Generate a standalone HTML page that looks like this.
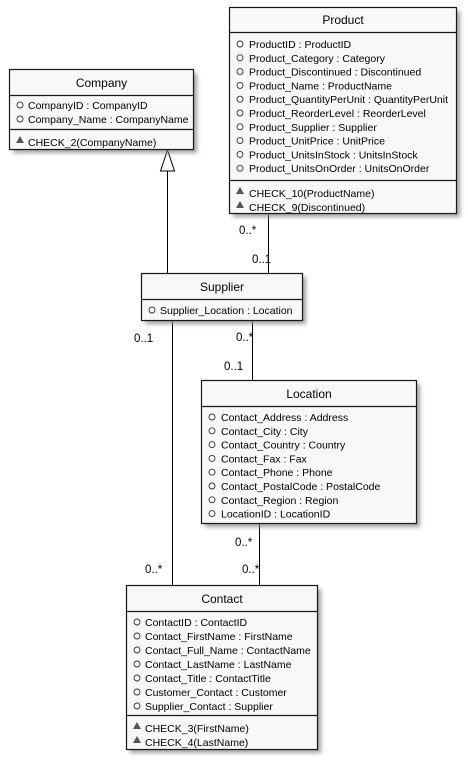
<!DOCTYPE html>
<html><head><meta charset="utf-8"><style>
html,body{margin:0;padding:0;background:#fff}
text{font-family:"Liberation Sans",Arial,sans-serif;fill:#000}
.t{font-size:12px}
.a{font-size:10.5px}
.m{font-size:11px}
</style></head><body>
<svg width="468" height="763" viewBox="0 0 468 763" xmlns="http://www.w3.org/2000/svg">
<defs><filter id="sh" x="-10%" y="-10%" width="130%" height="130%"><feGaussianBlur stdDeviation="2"/></filter></defs>
<g stroke="#000" stroke-width="1" fill="none">
<!-- connectors -->
<line x1="167.5" y1="171" x2="167.5" y2="273"/>
<polygon points="167.5,150 160.5,171 174.5,171" fill="#fff"/>
<line x1="268.5" y1="213" x2="268.5" y2="273"/>
<line x1="172.5" y1="320" x2="172.5" y2="585"/>
<line x1="252.5" y1="320" x2="252.5" y2="380"/>
<line x1="259.5" y1="523" x2="259.5" y2="585"/>
</g>
<g fill="#000" font-family="Liberation Sans,Arial,sans-serif" font-size="11.5">
<text x="239" y="234">0..*</text>
<text x="252" y="263">0..1</text>
<text x="134" y="342">0..1</text>
<text x="236" y="341">0..*</text>
<text x="224" y="370">0..1</text>
<text x="235" y="546">0..*</text>
<text x="145" y="573">0..*</text>
<text x="242" y="573">0..*</text>
</g>
<!-- shadows -->
<g fill="#888" filter="url(#sh)" opacity="0.8">
<rect x="13" y="73" width="184" height="80"/>
<rect x="233" y="11" width="227" height="206"/>
<rect x="145" y="277" width="161" height="47"/>
<rect x="205" y="384" width="215" height="143"/>
<rect x="130" y="589" width="191" height="164"/>
</g>
<g stroke="#181818" stroke-width="1.2" fill="#f8f8f8">
<rect x="9.5" y="69.5" width="184" height="80"/>
<line x1="9.5" y1="95.5" x2="193.5" y2="95.5"/><line x1="9.5" y1="129.5" x2="193.5" y2="129.5"/>
<rect x="229.5" y="7.5" width="227" height="206"/>
<line x1="229.5" y1="32.5" x2="456.5" y2="32.5"/><line x1="229.5" y1="180.5" x2="456.5" y2="180.5"/>
<rect x="141.5" y="273.5" width="161" height="47"/>
<line x1="141.5" y1="299.5" x2="302.5" y2="299.5"/>
<rect x="201.5" y="380.5" width="215" height="143"/>
<line x1="201.5" y1="406.5" x2="416.5" y2="406.5"/>
<rect x="126.5" y="585.5" width="191" height="164"/>
<line x1="126.5" y1="611.5" x2="317.5" y2="611.5"/><line x1="126.5" y1="715.5" x2="317.5" y2="715.5"/>
</g>
<!-- titles -->
<text class="t" x="101.5" y="87" text-anchor="middle">Company</text>
<text class="t" x="343" y="24" text-anchor="middle">Product</text>
<text class="t" x="222" y="291" text-anchor="middle">Supplier</text>
<text class="t" x="309" y="398" text-anchor="middle">Location</text>
<text class="t" x="222" y="603" text-anchor="middle">Contact</text>
<!-- attributes -->
<g fill="none" stroke="#333" stroke-width="0.9">
<circle cx="20" cy="105" r="3"/><circle cx="20" cy="119" r="3"/>
<circle cx="240" cy="44" r="3"/><circle cx="240" cy="57.8" r="3"/><circle cx="240" cy="71.6" r="3"/><circle cx="240" cy="85.4" r="3"/><circle cx="240" cy="99.2" r="3"/><circle cx="240" cy="113" r="3"/><circle cx="240" cy="126.8" r="3"/><circle cx="240" cy="140.6" r="3"/><circle cx="240" cy="154.4" r="3"/><circle cx="240" cy="168.2" r="3"/>
<circle cx="152" cy="310" r="3"/>
<circle cx="212" cy="417" r="3"/><circle cx="212" cy="430.8" r="3"/><circle cx="212" cy="444.6" r="3"/><circle cx="212" cy="458.4" r="3"/><circle cx="212" cy="472.2" r="3"/><circle cx="212" cy="486" r="3"/><circle cx="212" cy="499.8" r="3"/><circle cx="212" cy="513.6" r="3"/>
<circle cx="137" cy="622" r="3"/><circle cx="137" cy="636" r="3"/><circle cx="137" cy="650" r="3"/><circle cx="137" cy="664" r="3"/><circle cx="137" cy="678" r="3"/><circle cx="137" cy="692" r="3"/><circle cx="137" cy="706" r="3"/>
</g>
<g fill="#555">
<polygon points="20,136 16,143 24,143"/>
<polygon points="240,187 236,194 244,194"/><polygon points="240,201 236,208 244,208"/>
<polygon points="137,722 133,729 141,729"/><polygon points="137,736 133,743 141,743"/>
</g>
<g class="a">
<text x="28" y="109">CompanyID : CompanyID</text>
<text x="28" y="123">Company_Name : CompanyName</text>
<text x="28" y="146">CHECK_2(CompanyName)</text>
<text x="249" y="48">ProductID : ProductID</text>
<text x="249" y="61.8">Product_Category : Category</text>
<text x="249" y="75.6">Product_Discontinued : Discontinued</text>
<text x="249" y="89.4">Product_Name : ProductName</text>
<text x="249" y="103.2">Product_QuantityPerUnit : QuantityPerUnit</text>
<text x="249" y="117">Product_ReorderLevel : ReorderLevel</text>
<text x="249" y="130.8">Product_Supplier : Supplier</text>
<text x="249" y="144.6">Product_UnitPrice : UnitPrice</text>
<text x="249" y="158.4">Product_UnitsInStock : UnitsInStock</text>
<text x="249" y="172.2">Product_UnitsOnOrder : UnitsOnOrder</text>
<text x="249" y="197">CHECK_10(ProductName)</text>
<text x="249" y="211">CHECK_9(Discontinued)</text>
<text x="160" y="314">Supplier_Location : Location</text>
<text x="221" y="421">Contact_Address : Address</text>
<text x="221" y="434.8">Contact_City : City</text>
<text x="221" y="448.6">Contact_Country : Country</text>
<text x="221" y="462.4">Contact_Fax : Fax</text>
<text x="221" y="476.2">Contact_Phone : Phone</text>
<text x="221" y="490">Contact_PostalCode : PostalCode</text>
<text x="221" y="503.8">Contact_Region : Region</text>
<text x="221" y="517.6">LocationID : LocationID</text>
<text x="145" y="626">ContactID : ContactID</text>
<text x="145" y="640">Contact_FirstName : FirstName</text>
<text x="145" y="654">Contact_Full_Name : ContactName</text>
<text x="145" y="668">Contact_LastName : LastName</text>
<text x="145" y="682">Contact_Title : ContactTitle</text>
<text x="145" y="696">Customer_Contact : Customer</text>
<text x="145" y="710">Supplier_Contact : Supplier</text>
<text x="145" y="732">CHECK_3(FirstName)</text>
<text x="145" y="746">CHECK_4(LastName)</text>
</g>
</svg>
</body></html>
